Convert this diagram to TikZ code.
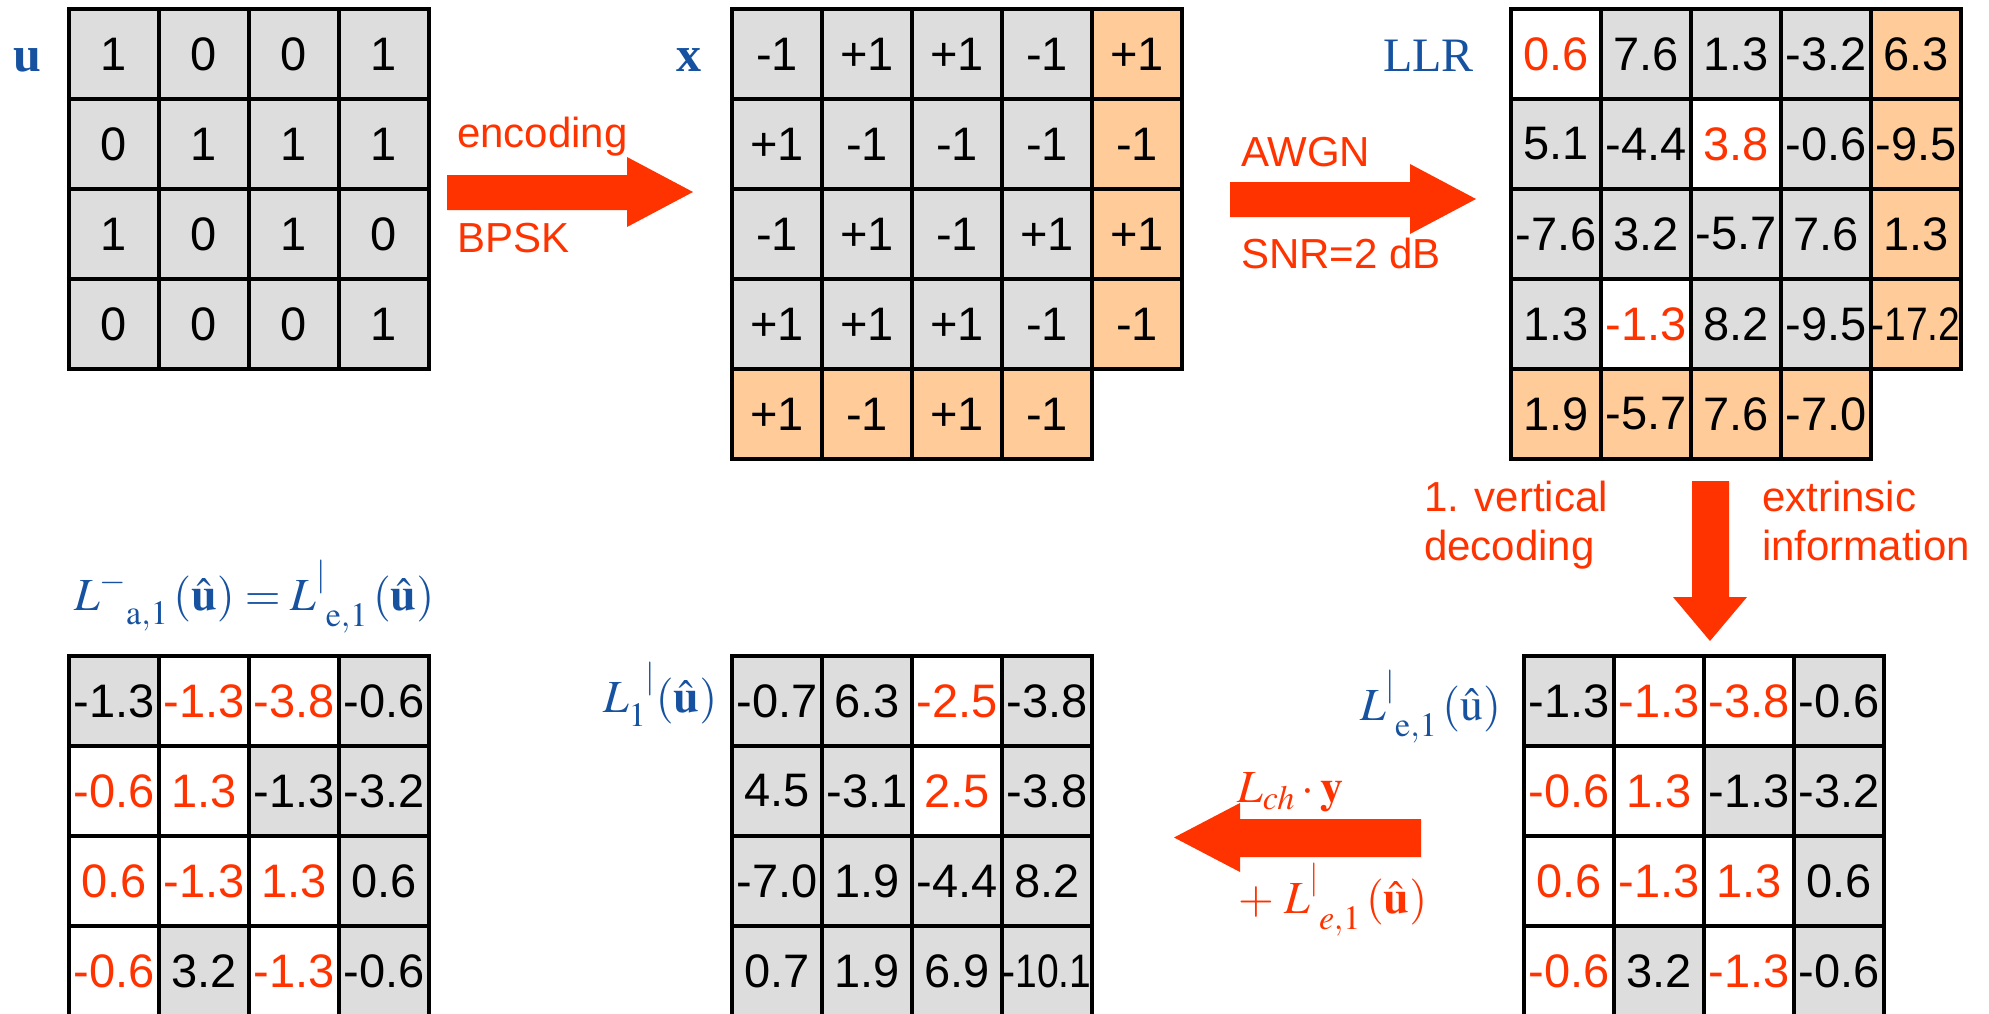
\documentclass[tikz,border=0pt]{standalone}
\usepackage{mathptmx}
\usepackage[no-math]{fontspec}
\setmainfont{Liberation Sans}
\newfontfamily\serifx{Liberation Serif}
\usepackage{graphicx}
\definecolor{cred}{RGB}{255,51,0}
\definecolor{cblue}{RGB}{22,82,160}
\definecolor{cgray}{RGB}{221,221,221}
\definecolor{corange}{RGB}{255,204,153}
\colorlet{G}{cgray}
\colorlet{W}{white}
\colorlet{O}{corange}
\colorlet{K}{black}
\colorlet{R}{cred}
\newcommand\nar[1]{\scalebox{0.83}[1]{#1}}
% #1 matrix name, #2 x0, #3 y0, #4 row index, #5 list fill/colour/text
\newcommand\mrow[5]{%
  \foreach \mfill/\mcol/\mtxt [count=\j] in {#5} {%
    \node[cellbox, fill=\mfill, text=\mcol] (#1-#4-\j)
      at ({#2+45+90*(\j-1)}, {#3+45+90*(#4-1)}) {\mtxt};
  }%
}
\tikzset{
  cellbox/.style={draw=black, line width=3.5pt, minimum width=90pt, minimum height=90pt,
    inner sep=0pt, font=\fontsize{47}{50}\selectfont},
  redlab/.style={anchor=base west, inner sep=0pt, text=cred, font=\fontsize{42}{46}\selectfont},
  boldlab/.style={anchor=base west, inner sep=0pt, text=cblue, font=\serifx\bfseries\fontsize{50}{54}\selectfont},
  mathlab/.style={anchor=base west, inner sep=0pt, font=\fontsize{46}{50}\selectfont},
  blockarrow/.style={fill=cred, draw=none}
}
\begin{document}
\begin{tikzpicture}[x=1pt, y=-1pt]
\fill[white] (0,0) rectangle (1989,1014);
\useasboundingbox (0,0) rectangle (1989,1014);

% ---------- u ----------
\mrow{u}{69}{9}{1}{G/K/1,G/K/0,G/K/0,G/K/1}
\mrow{u}{69}{9}{2}{G/K/0,G/K/1,G/K/1,G/K/1}
\mrow{u}{69}{9}{3}{G/K/1,G/K/0,G/K/1,G/K/0}
\mrow{u}{69}{9}{4}{G/K/0,G/K/0,G/K/0,G/K/1}
\node[boldlab] (ulab) at (13,72) {u};

% ---------- x ----------
\mrow{x}{732}{9}{1}{G/K/-1,G/K/+1,G/K/+1,G/K/-1,O/K/+1}
\mrow{x}{732}{9}{2}{G/K/+1,G/K/-1,G/K/-1,G/K/-1,O/K/-1}
\mrow{x}{732}{9}{3}{G/K/-1,G/K/+1,G/K/-1,G/K/+1,O/K/+1}
\mrow{x}{732}{9}{4}{G/K/+1,G/K/+1,G/K/+1,G/K/-1,O/K/-1}
\mrow{x}{732}{9}{5}{O/K/+1,O/K/-1,O/K/+1,O/K/-1}
\node[boldlab] (xlab) at (676,72) {x};

% ---------- LLR ----------
\mrow{l}{1511}{9}{1}{W/R/0.6,G/K/7.6,G/K/1.3,G/K/-3.2,O/K/6.3}
\mrow{l}{1511}{9}{2}{G/K/5.1,G/K/-4.4,W/R/3.8,G/K/-0.6,O/K/-9.5}
\mrow{l}{1511}{9}{3}{G/K/-7.6,G/K/3.2,G/K/-5.7,G/K/7.6,O/K/1.3}
\mrow{l}{1511}{9}{4}{G/K/1.3,W/R/-1.3,G/K/8.2,G/K/-9.5,O/K/{\nar{-17.2}}}
\mrow{l}{1511}{9}{5}{O/K/1.9,O/K/-5.7,O/K/7.6,O/K/-7.0}
\node[anchor=base west, inner sep=0pt, text=cblue, font=\serifx\fontsize{48}{52}\selectfont] (llrlab) at (1383,72) {LLR};

% ---------- bottom right: extrinsic ----------
\mrow{e}{1524}{656}{1}{G/K/-1.3,W/R/-1.3,W/R/-3.8,G/K/-0.6}
\mrow{e}{1524}{656}{2}{W/R/-0.6,W/R/1.3,G/K/-1.3,G/K/-3.2}
\mrow{e}{1524}{656}{3}{W/R/0.6,W/R/-1.3,W/R/1.3,G/K/0.6}
\mrow{e}{1524}{656}{4}{W/R/-0.6,G/K/3.2,W/R/-1.3,G/K/-0.6}
\node[mathlab, text=cblue] (elab) at (1360,720) {$L^{|}_{\phantom{|}\mathrm{e},1}\,(\hat{\mathrm{u}})$};

% ---------- bottom middle: L1 ----------
\mrow{m}{732}{656}{1}{G/K/-0.7,G/K/6.3,W/R/-2.5,G/K/-3.8}
\mrow{m}{732}{656}{2}{G/K/4.5,G/K/-3.1,W/R/2.5,G/K/-3.8}
\mrow{m}{732}{656}{3}{G/K/-7.0,G/K/1.9,G/K/-4.4,G/K/8.2}
\mrow{m}{732}{656}{4}{G/K/0.7,G/K/1.9,G/K/6.9,G/K/{\nar{-10.1}}}
\node[mathlab, text=cblue] (mlab) at (603,712) {$L_{1}^{\phantom{1}|}(\hat{\mathbf{u}})$};

% ---------- bottom left: a priori ----------
\mrow{a}{69}{656}{1}{G/K/-1.3,W/R/-1.3,W/R/-3.8,G/K/-0.6}
\mrow{a}{69}{656}{2}{W/R/-0.6,W/R/1.3,G/K/-1.3,G/K/-3.2}
\mrow{a}{69}{656}{3}{W/R/0.6,W/R/-1.3,W/R/1.3,G/K/0.6}
\mrow{a}{69}{656}{4}{W/R/-0.6,G/K/3.2,W/R/-1.3,G/K/-0.6}
\node[mathlab, text=cblue] (alab) at (74,610)
  {$L^{-}_{\phantom{-}\mathrm{a},1}\,(\hat{\mathbf{u}}) = L^{|}_{\phantom{|}\mathrm{e},1}\,(\hat{\mathbf{u}})$};

% ---------- block arrows ----------
\fill[blockarrow] (447,175) -- (627,175) -- (627,157) -- (693,192) -- (627,227) -- (627,210) -- (447,210) -- cycle;
\node[redlab] (enc) at (457,148) {encoding};
\node[redlab] (bpsk) at (457,252) {BPSK};

\fill[blockarrow] (1230,182) -- (1410,182) -- (1410,164) -- (1476,199) -- (1410,234) -- (1410,217) -- (1230,217) -- cycle;
\node[redlab] (awgn) at (1241,166) {AWGN};
\node[redlab] (snr) at (1241,268) {SNR=2 dB};

\fill[blockarrow] (1692,481) -- (1729,481) -- (1729,597) -- (1747,597) -- (1710,641) -- (1673,597) -- (1692,597) -- cycle;
\node[redlab] (vd1) at (1424,511) {1. vertical};
\node[redlab] (vd2) at (1424,560) {decoding};
\node[redlab] (ex1) at (1762,511) {extrinsic};
\node[redlab] (ex2) at (1762,560) {information};

\fill[blockarrow] (1421,819) -- (1240,819) -- (1240,803) -- (1174,837.5) -- (1240,872) -- (1240,857) -- (1421,857) -- cycle;
\node[mathlab, text=cred] (lch) at (1237,802) {$L_{ch}\cdot\mathbf{y}$};
\node[mathlab, text=cred] (ple) at (1238,913) {$+\;L^{|}_{\phantom{|}e,1}\,(\hat{\mathbf{u}})$};
\end{tikzpicture}
\end{document}
